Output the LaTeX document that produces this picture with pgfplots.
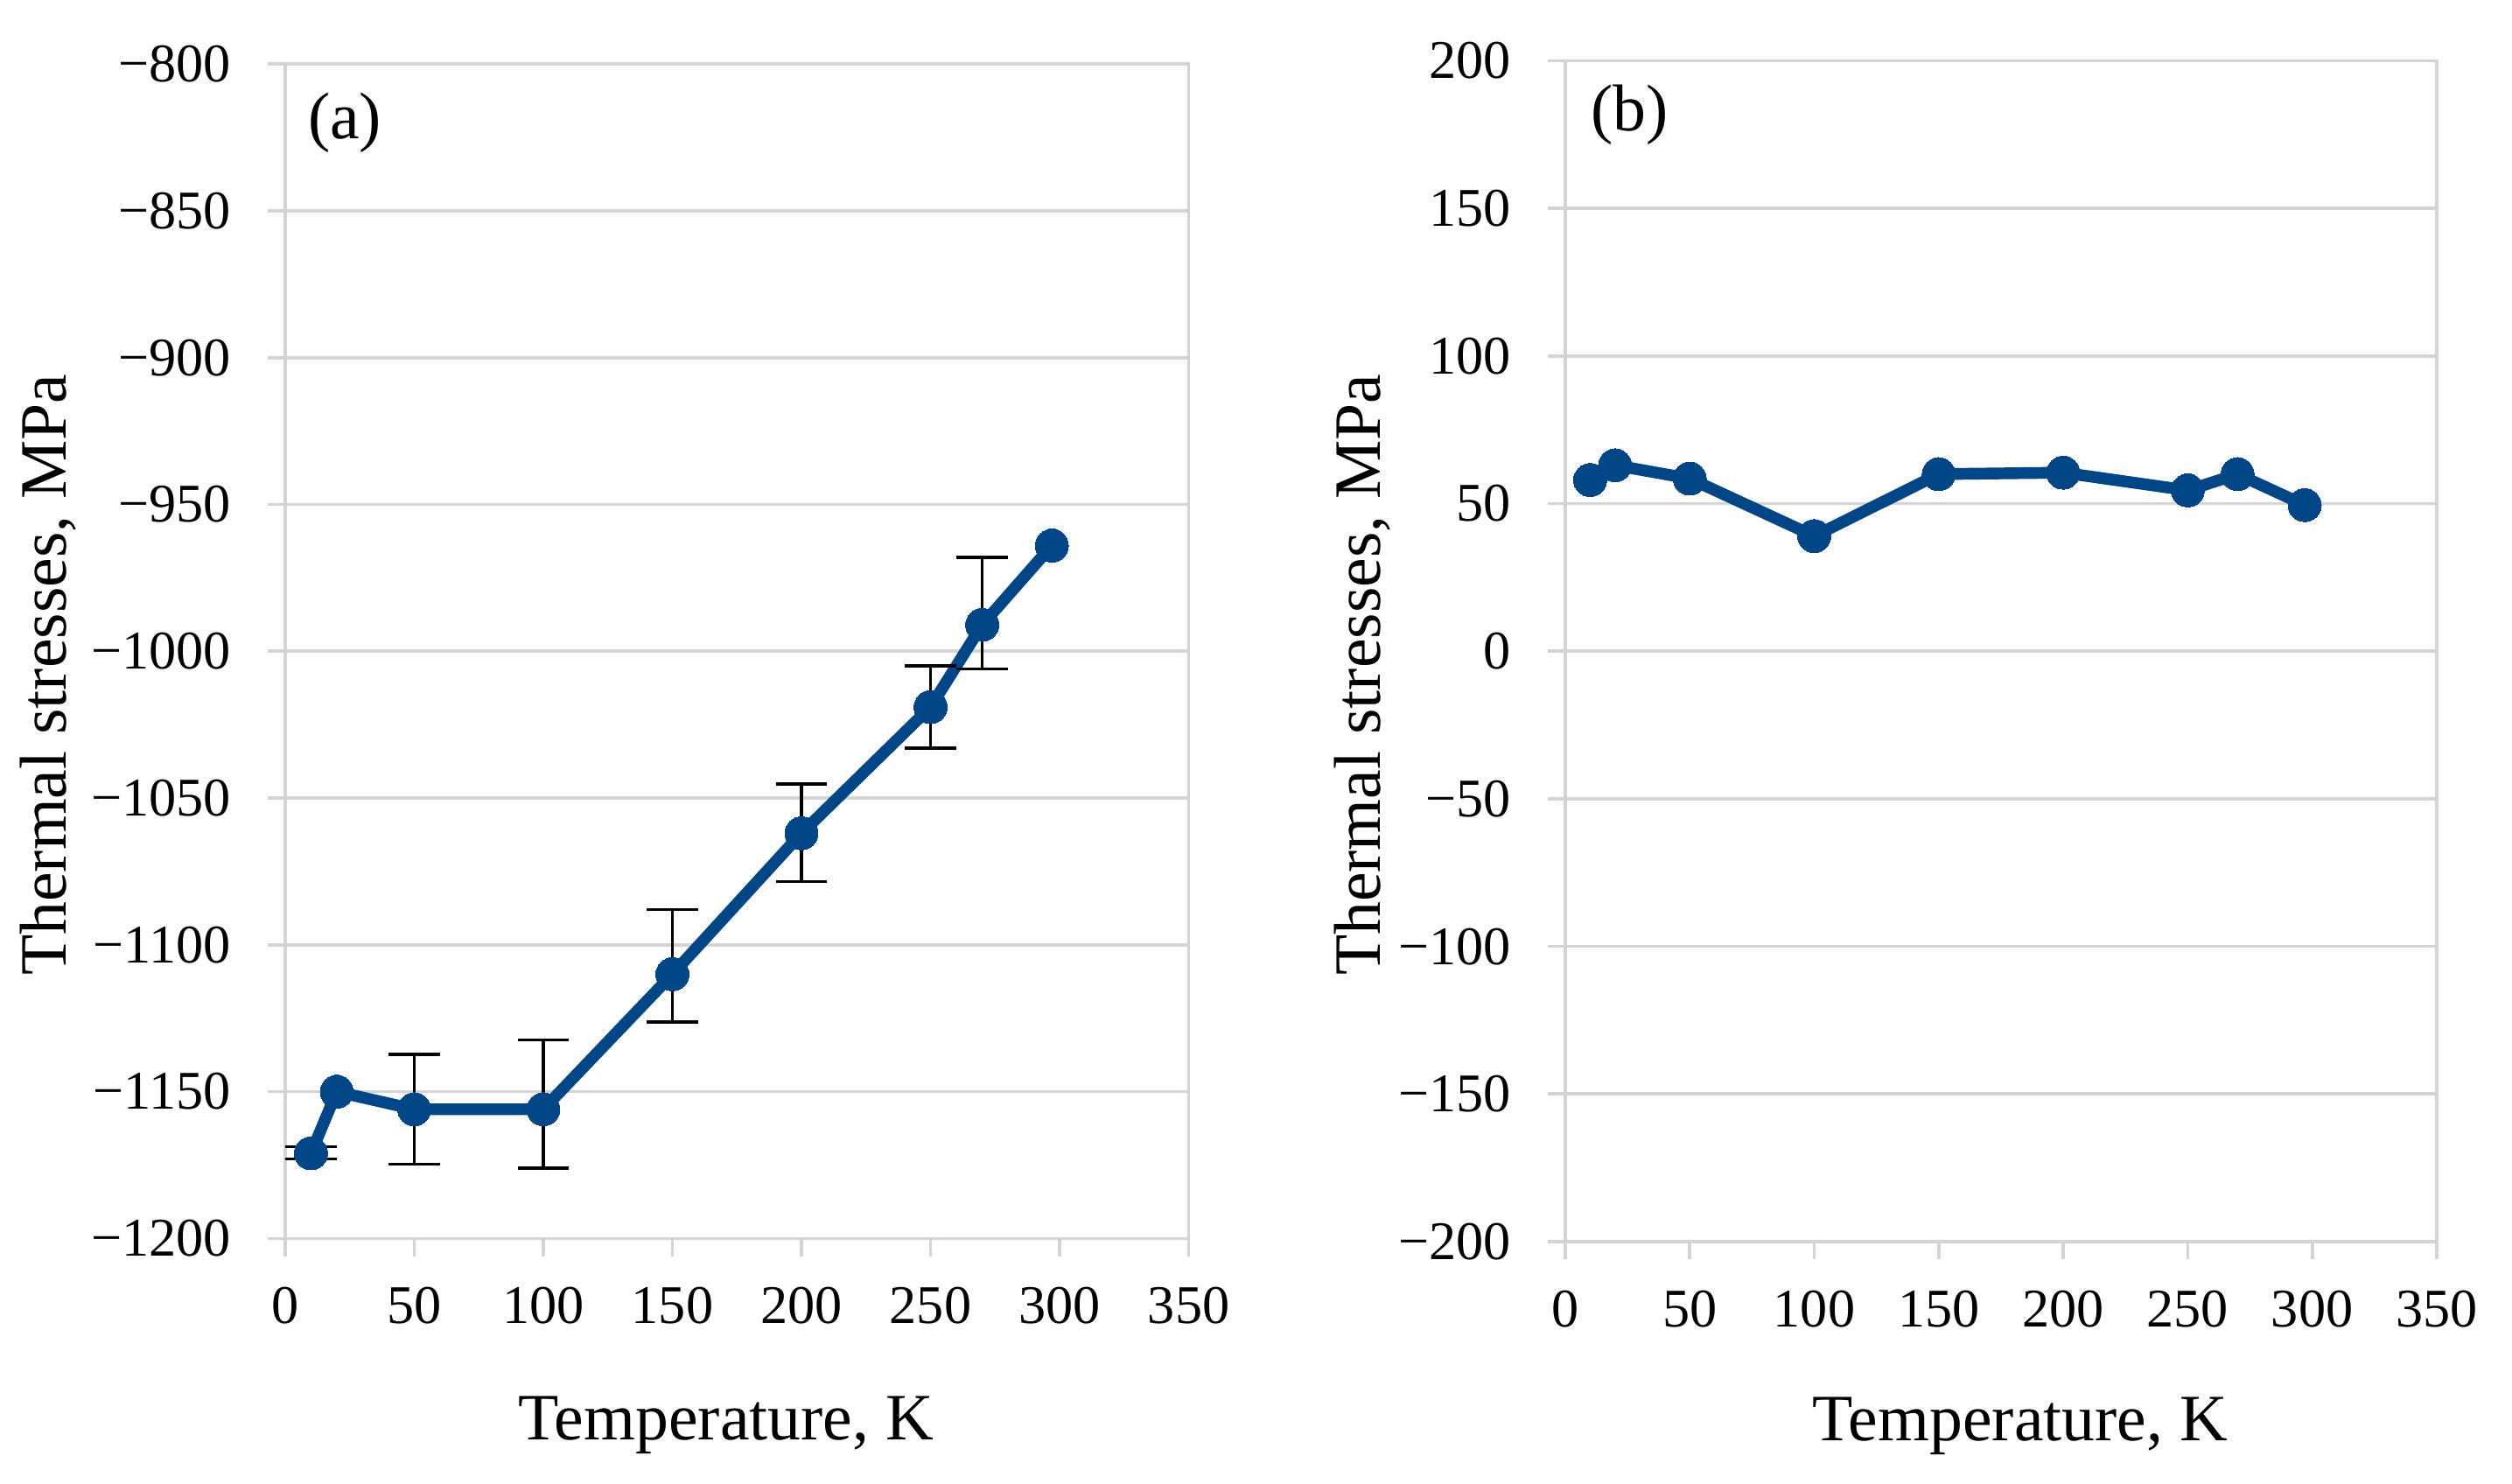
\documentclass[border=0pt]{standalone}
\usepackage{fontspec}
\setmainfont{Liberation Serif}
\usepackage{pgfplots}
\pgfplotsset{compat=1.18}
\definecolor{lineblue}{RGB}{0,69,134}
\definecolor{gridgray}{RGB}{212,212,212}
\pgfplotsset{
 myaxis/.style={
  scale only axis, anchor=south west,
  xmin=0, xmax=350, xtick={0,50,...,350},
  xticklabels={0,50,100,150,200,250,300,350},
  axis line style={gridgray, line width=0.6pt},
  ymajorgrids, grid style={gridgray, line width=0.6pt},
  tick align=outside, major tick length=3.3pt,
  tick style={gridgray, line width=0.6pt},
  tick pos=left,
  ticklabel style={font=\fontsize{10.2}{12}\selectfont, text=black},
  yticklabel shift=3.3pt, xticklabel shift=2.3pt,
  label style={font=\fontsize{12.4}{14}\selectfont, text=black},
  clip=false,
 },
 myline/.style={lineblue, line width=2.2pt, line join=round, mark=*, mark size=3.1pt,
  mark options={fill=lineblue, draw=lineblue, line width=0pt}},
}
\begin{document}
\begin{tikzpicture}
\path[use as bounding box] (0,0) rectangle (470.4pt,277.8pt);
\begin{axis}[myaxis,
  at={(53.4pt,45.9pt)}, width=169.2pt, height=219.9pt,
  ymin=-1200, ymax=-800, ytick={-1200,-1150,...,-800},
  yticklabels={−1200,−1150,−1100,−1050,−1000,−950,−900,−850,−800},
  xlabel={Temperature, K}, ylabel={Thermal stresses, MPa},
  xlabel style={at={(axis description cs:0.488,-0.159)}, anchor=center},
  ylabel style={at={(axis description cs:-0.262,0.48)}, anchor=center},
]
\addplot[myline] coordinates {
(10,-1171) (20,-1150) (50,-1156) (100,-1156) (150,-1110) (200,-1062) (250,-1019) (270,-991) (297,-964)
};
\addplot[draw=none, forget plot,
  error bars/.cd, y dir=both, y explicit,
  error bar style={draw=black, line width=0.55pt},
  error mark options={draw=black, rotate=90, mark size=4.8pt, line width=0.55pt}]
 table[x=x, y=y, y error plus=ep, y error minus=em] {
x y ep em
10 -1171 2.3 2
50 -1156 18.7 18.8
100 -1156 23.6 20.1
150 -1110 22 16.3
200 -1062 16.8 16.5
250 -1019 14 14
270 -991 23 15
};
\node[font=\fontsize{12.4}{14}\selectfont, anchor=center] at (axis description cs:0.066,0.95) {(a)};
\end{axis}
\begin{axis}[myaxis,
  at={(293.1pt,45.3pt)}, width=163.2pt, height=221.1pt,
  ymin=-200, ymax=200, ytick={-200,-150,...,200},
  yticklabels={−200,−150,−100,−50,0,50,100,150,200},
  xlabel={Temperature, K}, ylabel={Thermal stresses, MPa},
  xlabel style={at={(axis description cs:0.522,-0.156)}, anchor=center},
  ylabel style={at={(axis description cs:-0.233,0.48)}, anchor=center},
]
\addplot[myline] coordinates {
(10,58) (20,63) (50,58.5) (100,39) (150,60) (200,60.5) (250,54.5) (270,60) (297,49.5)
};
\node[font=\fontsize{12.4}{14}\selectfont, anchor=center] at (axis description cs:0.0735,0.954) {(b)};
\end{axis}
\end{tikzpicture}
\end{document}
